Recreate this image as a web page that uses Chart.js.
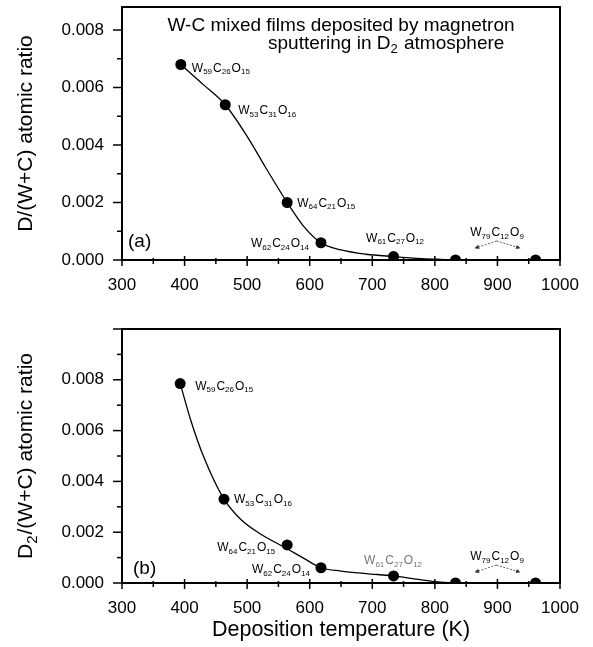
<!DOCTYPE html>
<html>
<head>
<meta charset="utf-8">
<script src="https://cdn.jsdelivr.net/npm/chart.js@4.4.1/dist/chart.umd.min.js"></script>
<style>
    html, body { margin: 0; padding: 0; background: #fff; }
    .panel { position: absolute; left: 0; width: 593px; }
    #panelA { top: 0; height: 300px; }
    #panelB { top: 300px; height: 347px; }
</style>
</head>
<body>
<div class="panel" id="panelA"><canvas id="chartA"></canvas></div>
<div class="panel" id="panelB"><canvas id="chartB"></canvas></div>
<script>
// Deposition temperature (K) of each film
const tempA = [394, 465, 564, 618, 734, 833, 961];
const tempB = [393, 463, 564, 618, 734, 833, 961];

// (a) D/(W+C) and (b) D2/(W+C) atomic ratios
const ratioA = [0.0068, 0.0054, 0.0020, 0.0006, 0.00012, 0, 0];
const ratioB = [0.00785, 0.0033, 0.0015, 0.0006, 0.00028, 0, 0];

// Guide curves
const fitTempA = [394, 430, 465, 500, 530, 564, 590, 618, 650, 690, 734, 780, 810, 833];
const fitRatioA = [0.0068, 0.0061, 0.0054, 0.0043, 0.0032, 0.0020, 0.00118, 0.0006, 0.00035, 0.0002, 0.00012, 0.00005, 0.00002, 0];
const fitTempB = [393, 410, 430, 463, 490, 520, 564, 590, 618, 650, 690, 734, 770, 800, 833];
const fitRatioB = [0.00785, 0.0064, 0.0050, 0.0033, 0.0025, 0.00195, 0.00135, 0.00098, 0.0006, 0.00047, 0.00037, 0.00028, 0.00015, 0.00005, 0];

// Film composition W / C / O (the last one is shared by the two hottest films)
const compW = [59, 53, 64, 62, 61, 79];
const compC = [26, 31, 21, 24, 27, 12];
const compO = [15, 16, 15, 14, 12, 9];

// Tick labels
const xTicks = [300, 400, 500, 600, 700, 800, 900, 1000];
const yTicks = [0, 0.002, 0.004, 0.006, 0.008];

const FONT = '"Liberation Sans", Arial, sans-serif';

// where each formula sits next to its point: [dx, dy, align, colour]
const labelPosA = [
    [11, 3, 'left', '#000'], [13, 5, 'left', '#000'], [10, 0, 'left', '#000'],
    [-11, 0, 'right', '#000'], [2, -19, 'center', '#000']
];
const labelPosB = [
    [15, 2, 'left', '#000'], [10, 0, 'left', '#000'], [-11, 2, 'right', '#000'],
    [-10, 1, 'right', '#000'], [0, -16, 'center', '#777']
];

// Draws text made of [string, isSubscript] pieces
function drawPieces(ctx, pieces, x, baseline, align, bigPx, smallPx, subDrop) {
    const big = bigPx + 'px ' + FONT, small = smallPx + 'px ' + FONT;
    let w = 0;
    pieces.forEach(([t, sub]) => {
        ctx.font = sub ? small : big;
        w += ctx.measureText(t).width + (sub ? 1 : 0);
    });
    let sx = align === 'left' ? x : align === 'right' ? x - w : x - w / 2;
    ctx.textAlign = 'left';
    ctx.textBaseline = 'alphabetic';
    pieces.forEach(([t, sub]) => {
        ctx.font = sub ? small : big;
        ctx.fillText(t, sx, sub ? baseline + subDrop : baseline);
        sx += ctx.measureText(t).width + (sub ? 1 : 0);
    });
}

function formula(i) {
    return [['W', false], [String(compW[i]), true], ['C', false], [String(compC[i]), true],
            ['O', false], [String(compO[i]), true]];
}

function line(ctx, x1, y1, x2, y2) {
    ctx.beginPath();
    ctx.moveTo(x1, y1);
    ctx.lineTo(x2, y2);
    ctx.stroke();
}

function arrowHead(ctx, fx, fy, tx, ty) {
    const ang = Math.atan2(ty - fy, tx - fx);
    ctx.beginPath();
    ctx.moveTo(tx, ty);
    ctx.lineTo(tx - 5 * Math.cos(ang - 0.45), ty - 5 * Math.sin(ang - 0.45));
    ctx.lineTo(tx - 5 * Math.cos(ang + 0.45), ty - 5 * Math.sin(ang + 0.45));
    ctx.closePath();
    ctx.fill();
}

// Frame, ticks, titles and formula labels
function decorPlugin(cfg) {
    return {
        id: 'decor',
        afterDraw(chart) {
            const ctx = chart.ctx, a = chart.chartArea;
            const xs = chart.scales.x, ys = chart.scales.y;
            ctx.save();
            ctx.strokeStyle = '#000';
            ctx.fillStyle = '#000';

            // frame
            ctx.lineWidth = 2;
            ctx.strokeRect(a.left, a.top, a.right - a.left, a.bottom - a.top);

            // x ticks (major + minor)
            ctx.lineWidth = 1.5;
            xTicks.forEach((v, i) => {
                const px = xs.getPixelForValue(v);
                line(ctx, px, a.bottom - 4, px, a.bottom + 6);
                if (i < xTicks.length - 1) {
                    const pm = xs.getPixelForValue((v + xTicks[i + 1]) / 2);
                    line(ctx, pm, a.bottom - 2, pm, a.bottom + 4);
                }
            });
            // y ticks
            for (let k = 0; k * 0.001 <= cfg.yMax + 1e-9; k++) {
                const py = ys.getPixelForValue(k * 0.001);
                line(ctx, a.left - (k % 2 === 0 ? 9 : 5), py, a.left, py);
            }

            // y title (rotated)
            ctx.save();
            ctx.translate(31.5, (a.top + a.bottom) / 2);
            ctx.rotate(-Math.PI / 2);
            drawPieces(ctx, cfg.yTitle, 0, 0, 'center', 21, 15, 5);
            ctx.restore();

            // panel letter
            ctx.font = '19px ' + FONT;
            ctx.textAlign = 'left';
            ctx.textBaseline = 'alphabetic';
            ctx.fillText(cfg.letter[0], cfg.letter[1], cfg.letter[2]);

            // formula labels
            cfg.labelPos.forEach(([dx, dy, align, color], i) => {
                const px = xs.getPixelForValue(cfg.temps[i]);
                const py = ys.getPixelForValue(cfg.ratios[i]);
                ctx.fillStyle = color;
                drawPieces(ctx, formula(i), px + dx, py + dy + 4.3, align, 12, 8, 2.5);
            });

            // shared label for the two hottest films, with arrows
            const n = cfg.temps.length;
            const cx = (xs.getPixelForValue(cfg.temps[n - 2]) + xs.getPixelForValue(cfg.temps[n - 1])) / 2 + 2;
            const cy = ys.getPixelForValue(0) + cfg.pairDy;
            ctx.fillStyle = '#000';
            drawPieces(ctx, formula(5), cx, cy + 4.3, 'center', 12, 8, 2.5);
            ctx.lineWidth = 0.8;
            ctx.strokeStyle = '#333';
            ctx.fillStyle = '#333';
            ctx.setLineDash([2, 1.5]);
            line(ctx, cx - 1, cy + 9, cx - 22, cy + 16);
            line(ctx, cx - 1, cy + 9, cx + 22, cy + 16);
            ctx.setLineDash([]);
            arrowHead(ctx, cx - 1, cy + 9, cx - 23, cy + 16.3);
            arrowHead(ctx, cx - 1, cy + 9, cx + 23, cy + 16.3);

            // extra text
            ctx.fillStyle = '#000';
            if (cfg.extra) cfg.extra(ctx, a);
            ctx.restore();
        }
    };
}

function makeChart(id, cfg) {
    return new Chart(document.getElementById(id), {
        type: 'scatter',
        data: {
            datasets: [{
                data: cfg.fitT.map((t, i) => ({ x: t, y: cfg.fitR[i] })),
                showLine: true,
                borderColor: '#000',
                borderWidth: 1.3,
                pointRadius: 0,
                cubicInterpolationMode: 'monotone'
            }, {
                data: cfg.temps.map((t, i) => ({ x: t, y: cfg.ratios[i] })),
                pointRadius: 5.5,
                pointBackgroundColor: '#000',
                pointBorderWidth: 0
            }]
        },
        options: {
            responsive: true,
            maintainAspectRatio: false,
            animation: false,
            events: [],
            layout: { padding: { top: cfg.padTop, right: 33, left: 0, bottom: 0 } },
            plugins: { legend: { display: false }, tooltip: { enabled: false } },
            scales: {
                x: {
                    type: 'linear', min: 300, max: 1000,
                    afterBuildTicks: s => { s.ticks = xTicks.map(v => ({ value: v })); },
                    afterFit: s => { s.height = cfg.xHeight; s.paddingLeft = 0; s.paddingRight = 0; },
                    grid: { display: false, drawTicks: false },
                    border: { display: false },
                    ticks: { padding: 15, color: '#000', font: { family: FONT, size: 17 }, maxRotation: 0,
                             autoSkip: false, callback: v => String(v) }
                },
                y: {
                    type: 'linear', min: 0, max: cfg.yMax,
                    afterBuildTicks: s => { s.ticks = yTicks.map(v => ({ value: v })); },
                    afterFit: s => { s.width = 122; s.paddingTop = 0; s.paddingBottom = 0; },
                    grid: { display: false, drawTicks: false },
                    border: { display: false },
                    ticks: { padding: 18, color: '#000', font: { family: FONT, size: 17 },
                             callback: v => v.toFixed(3) }
                }
            }
        },
        plugins: [decorPlugin(cfg)]
    });
}

makeChart('chartA', {
    temps: tempA, ratios: ratioA, fitT: fitTempA, fitR: fitRatioA,
    yMax: 0.0088, padTop: 7, xHeight: 40,
    labelPos: labelPosA, pairDy: -28,
    letter: ['(a)', 128, 246.5],
    yTitle: [['D/(W+C) atomic ratio', false]],
    extra: (ctx, a) => {
        ctx.font = '19px ' + FONT;
        ctx.textAlign = 'center';
        ctx.fillText('W-C mixed films deposited by magnetron', (a.left + a.right) / 2, 30.5);
        drawPieces(ctx, [['sputtering in D', false], ['2', true], [' atmosphere', false]],
                   268, 49, 'left', 19, 13, 4);
    }
});

makeChart('chartB', {
    temps: tempB, ratios: ratioB, fitT: fitTempB, fitR: fitRatioB,
    yMax: 0.010, padTop: 29, xHeight: 64,
    labelPos: labelPosB, pairDy: -27,
    letter: ['(b)', 133, 274],
    yTitle: [['D', false], ['2', true], ['/(W+C) atomic ratio', false]],
    extra: (ctx, a) => {
        ctx.font = '21.5px ' + FONT;
        ctx.textAlign = 'center';
        ctx.fillText('Deposition temperature (K)', (a.left + a.right) / 2, 336);
    }
});
</script>
</body>
</html>
